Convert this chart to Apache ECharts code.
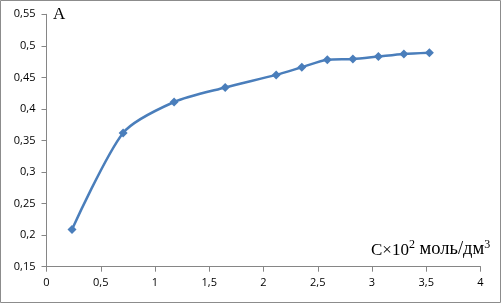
<!DOCTYPE html>
<html>
<head>
<meta charset="utf-8">
<script src="https://cdn.jsdelivr.net/npm/echarts@6/dist/echarts.min.js"></script>
<style>
html,body{margin:0;padding:0;background:#fff;}
#chart{width:502px;height:304px;}
</style>
</head>
<body>
<div id="chart"></div>
<script>
var xValues = [0.235, 0.706, 1.176, 1.647, 2.117, 2.353, 2.588, 2.824, 3.059, 3.294, 3.529];
var yValues = [0.209, 0.362, 0.411, 0.434, 0.454, 0.466, 0.478, 0.479, 0.483, 0.487, 0.489];
var yTitle = 'A';
var xTitleParts = ['C×10', '2', ' моль/дм', '3'];

var data = xValues.map(function (x, i) { return [x, yValues[i]]; });
var comma = function (v) { return String(+v.toFixed(2)).replace('.', ','); };

var chart = echarts.init(document.getElementById('chart'), null, {renderer: 'canvas'});
chart.setOption({
  animation: false,
  backgroundColor: '#ffffff',
  grid: {left: 46.5, right: 21.5, top: 14.3, bottom: 37.3, containLabel: false},
  xAxis: {
    type: 'value', min: 0, max: 4, interval: 0.5,
    axisLine: {show: true, lineStyle: {color: '#868686', width: 1}},
    axisTick: {show: true, inside: false, length: 5, lineStyle: {color: '#868686'}},
    splitLine: {show: false},
    axisLabel: {formatter: comma, color: '#000', fontFamily: 'Open Sans', fontSize: 11, margin: 11}
  },
  yAxis: {
    type: 'value', min: 0.15, max: 0.55, interval: 0.05,
    axisLine: {show: true, lineStyle: {color: '#868686', width: 1}},
    axisTick: {show: true, inside: false, length: 5, lineStyle: {color: '#868686'}},
    splitLine: {show: false},
    axisLabel: {formatter: comma, color: '#000', fontFamily: 'Open Sans', fontSize: 11, margin: 11}
  },
  graphic: [
    {type: 'rect', shape: {x: 0.5, y: 0.5, width: 500, height: 302}, style: {fill: 'none', stroke: '#8c8c8c', lineWidth: 1}, z: 100},
    {type: 'text', left: 53, top: 6, style: {text: yTitle, font: '17px "Liberation Serif"', fill: '#000'}},
    {type: 'text', left: 371, top: 239, style: {
      text: '{a|' + xTitleParts[0] + '}{s|' + xTitleParts[1] + '}{b|' + xTitleParts[2] + '}{s|' + xTitleParts[3] + '}',
      fill: '#000',
      rich: {
        a: {fontFamily: 'Liberation Serif', fontSize: 17, lineHeight: 20, verticalAlign: 'bottom', fill: '#000'},
        b: {fontFamily: 'Liberation Serif', fontSize: 18.5, lineHeight: 20, verticalAlign: 'bottom', fill: '#000'},
        s: {fontFamily: 'Liberation Serif', fontSize: 12, lineHeight: 18, verticalAlign: 'top', fill: '#000'}
      }
    }}
  ],
  series: [{
    type: 'line',
    data: data,
    smooth: 0.25,
    symbol: 'diamond',
    symbolSize: 9,
    lineStyle: {color: '#4a7ebb', width: 2.5},
    itemStyle: {color: '#4a7ebb'}
  }]
});
</script>
</body>
</html>
